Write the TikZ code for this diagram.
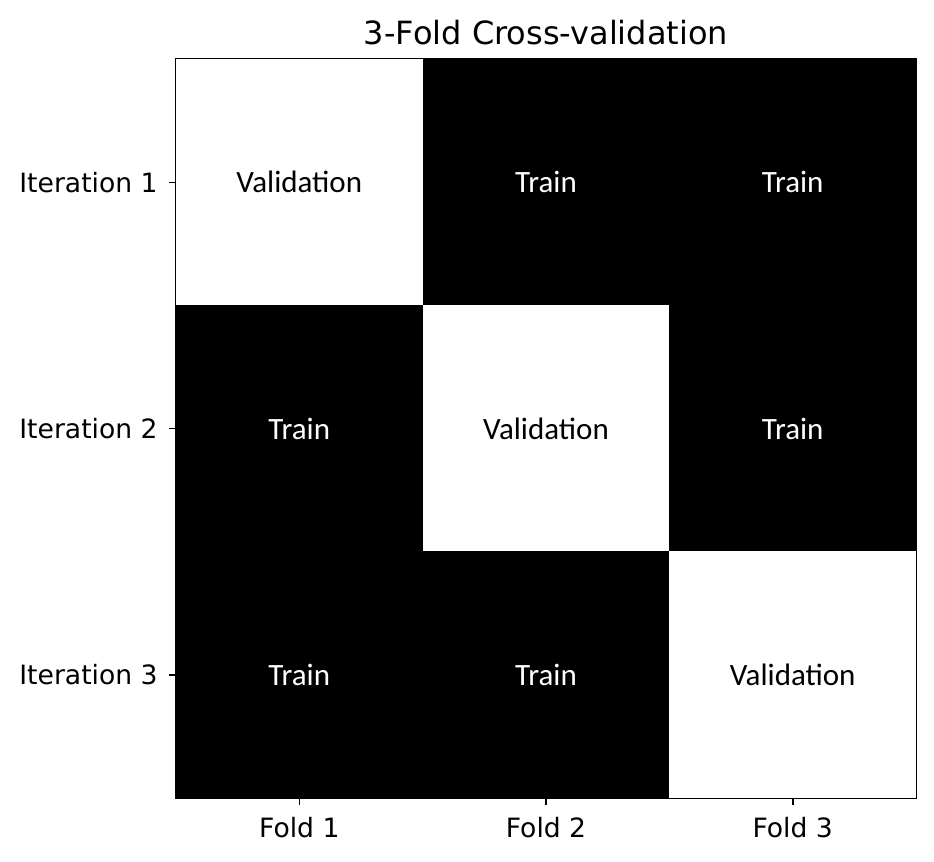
\documentclass[tikz,border=0pt]{standalone}
\usepackage{fontspec}
\setmainfont{DejaVu Sans}
\newfontfamily\cellfont{Carlito}
\usetikzlibrary{positioning}

\tikzset{
  cell/.style={minimum width=123.35pt, minimum height=123.35pt, inner sep=0pt,
    font=\cellfont\fontsize{15.5}{18}\selectfont},
  trainbox/.style={cell, fill=black, text=white},
  validbox/.style={cell, fill=white, text=black},
  ticklab/.style={font=\fontsize{13.3}{16}\selectfont, inner sep=0pt},
  tickmark/.style={line width=0.8pt}
}

\begin{document}
\begin{tikzpicture}[x=0.5pt,y=-0.5pt]
\useasboundingbox (0,0) rectangle (934,862);
%the title
    \node[font=\fontsize{16}{19}\selectfont] (title) at (546,33) {3-Fold Cross-validation};

%the cells, row by row
    \node[validbox] (c11) at (299.3,182.3) {Validation};
    \node[trainbox] (c12) at (546,182.3) {Train};
    \node[trainbox] (c13) at (792.7,182.3) {Train};

    \node[trainbox] (c21) at (299.3,428.5) {Train};
    \node[validbox] (c22) at (546,428.5) {Validation};
    \node[trainbox] (c23) at (792.7,428.5) {Train};

    \node[trainbox] (c31) at (299.3,674.7) {Train};
    \node[trainbox] (c32) at (546,674.7) {Train};
    \node[validbox] (c33) at (792.7,674.7) {Validation};

%the frame
    \draw[line width=0.8pt] (c11.north west) rectangle (c33.south east);

%the ticks on the left
  \begin{scope}[every path/.style={tickmark}]
    \draw (c11.west) -- ++(-7,0);
    \draw (c21.west) -- ++(-7,0);
    \draw (c31.west) -- ++(-7,0);
  %the ticks at the bottom
    \draw (c31.south) -- ++(0,7);
    \draw (c32.south) -- ++(0,7);
    \draw (c33.south) -- ++(0,7);
  \end{scope}

%the tick labels
    \node[ticklab, anchor=east] (it1) at (158,182.3) {Iteration 1};
    \node[ticklab, anchor=east] (it2) at (158,428.5) {Iteration 2};
    \node[ticklab, anchor=east] (it3) at (158,674.7) {Iteration 3};
    \node[ticklab] (f1) at (299.3,828) {Fold 1};
    \node[ticklab] (f2) at (546,828) {Fold 2};
    \node[ticklab] (f3) at (792.7,828) {Fold 3};
\end{tikzpicture}
\end{document}
